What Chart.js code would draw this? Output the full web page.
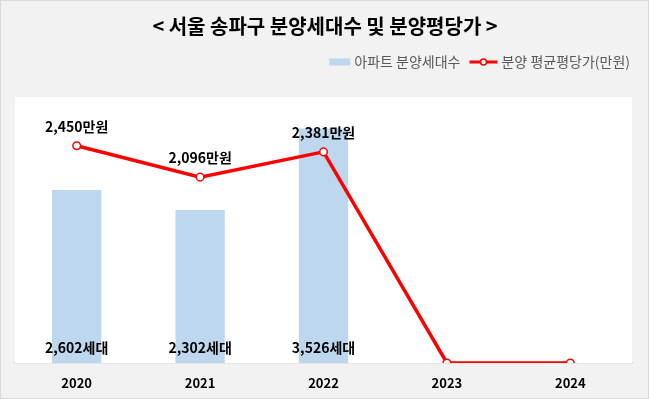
<!DOCTYPE html>
<html>
<head>
<meta charset="utf-8">
<script src="https://cdn.jsdelivr.net/npm/chart.js@4"></script>
<style>
  html, body { margin: 0; padding: 0; background: #f2f2f2; }
  #wrap { width: 649px; height: 399px; position: relative; box-sizing: border-box; border: 1px solid #d9d9d9; }
</style>
</head>
<body>
<div id="wrap"><canvas id="chart" width="647" height="397"></canvas></div>
<script>
const years = ['2020', '2021', '2022', '2023', '2024'];
const households = [2602, 2302, 3526, 0, 0];
const pricePerPyeong = [2450, 2096, 2381, 0, 0];

const titleText = '< 서울 송파구 분양세대수 및 분양평당가 >';
const barLabel = '아파트 분양세대수';
const lineLabel = '분양 평균평당가(만원)';

const FONT = "'Noto Sans CJK KR', 'Noto Sans', sans-serif";

function fmt(n) {
    return n.toLocaleString('en-US');
}

// white plot area + title + custom legend + value labels
const decorations = {
    id: 'decorations',
    beforeDatasetsDraw(chart) {
        const { ctx, chartArea } = chart;
        ctx.save();
        ctx.fillStyle = '#ffffff';
        ctx.fillRect(chartArea.left, chartArea.top, chartArea.right - chartArea.left, chartArea.bottom - chartArea.top);
        ctx.restore();
    },
    afterDraw(chart) {
        const { ctx } = chart;
        ctx.save();

        // title
        ctx.fillStyle = '#000000';
        ctx.font = 'bold 20px ' + FONT;
        ctx.textAlign = 'center';
        ctx.textBaseline = 'middle';
        ctx.fillText(titleText, 324, 25);

        // legend, laid out from the right edge
        ctx.font = '14px ' + FONT;
        ctx.textAlign = 'left';
        const ly = 61;
        const lineTextX = 629 - ctx.measureText(lineLabel).width;
        const lineEnd = lineTextX - 4;
        const lineStart = lineEnd - 28;
        const barTextX = lineStart - 9 - ctx.measureText(barLabel).width;
        const boxEnd = barTextX - 4;

        ctx.fillStyle = '#bdd7ee';
        ctx.fillRect(boxEnd - 21, ly - 3.5, 21, 7);
        ctx.fillStyle = '#595959';
        ctx.fillText(barLabel, barTextX, ly);

        ctx.strokeStyle = '#ff0000';
        ctx.lineWidth = 3;
        ctx.beginPath();
        ctx.moveTo(lineStart, ly);
        ctx.lineTo(lineEnd, ly);
        ctx.stroke();
        ctx.fillStyle = '#ffffff';
        ctx.lineWidth = 1.5;
        ctx.beginPath();
        ctx.arc((lineStart + lineEnd) / 2, ly, 3, 0, Math.PI * 2);
        ctx.fill();
        ctx.stroke();
        ctx.fillStyle = '#595959';
        ctx.fillText(lineLabel, lineTextX, ly);

        // value labels
        ctx.fillStyle = '#000000';
        ctx.font = 'bold 14px ' + FONT;
        ctx.textAlign = 'center';
        const barMeta = chart.getDatasetMeta(0);
        barMeta.data.forEach((el, i) => {
            if (!households[i]) return;
            ctx.fillText(fmt(households[i]) + '세대', el.x, chart.chartArea.bottom - 15);
        });
        const lineMeta = chart.getDatasetMeta(1);
        lineMeta.data.forEach((el, i) => {
            if (!pricePerPyeong[i]) return;
            ctx.fillText(fmt(pricePerPyeong[i]) + '만원', el.x, el.y - 19);
        });
        ctx.restore();
    }
};

new Chart(document.getElementById('chart'), {
    data: {
        labels: years,
        datasets: [
            {
                type: 'bar',
                label: barLabel,
                data: households,
                backgroundColor: '#bdd7ee',
                barPercentage: 0.8,
                categoryPercentage: 0.5,
                yAxisID: 'y',
                order: 2
            },
            {
                type: 'line',
                label: lineLabel,
                data: pricePerPyeong,
                borderColor: '#ff0000',
                borderWidth: 3.5,
                pointRadius: 3.8,
                pointBackgroundColor: '#ffffff',
                pointBorderColor: '#ff0000',
                pointBorderWidth: 1.5,
                tension: 0,
                yAxisID: 'y1',
                order: 1
            }
        ]
    },
    options: {
        responsive: false,
        animation: false,
        layout: { padding: { left: 14, right: 16, top: 96, bottom: 0 } },
        plugins: {
            legend: { display: false },
            title: { display: false },
            tooltip: { enabled: false }
        },
        scales: {
            x: {
                grid: { display: false, drawTicks: false },
                border: { display: true, color: '#d9d9d9', width: 1.5 },
                ticks: {
                    color: '#000000',
                    padding: 12,
                    font: { family: FONT, size: 13, weight: 'bold' }
                },
                afterFit(scale) {
                    scale.height = 35;
                }
            },
            y: { display: false, min: 0, max: 4000 },
            y1: { display: false, min: 0, max: 3000, position: 'right' }
        }
    },
    plugins: [decorations]
});
</script>
</body>
</html>
